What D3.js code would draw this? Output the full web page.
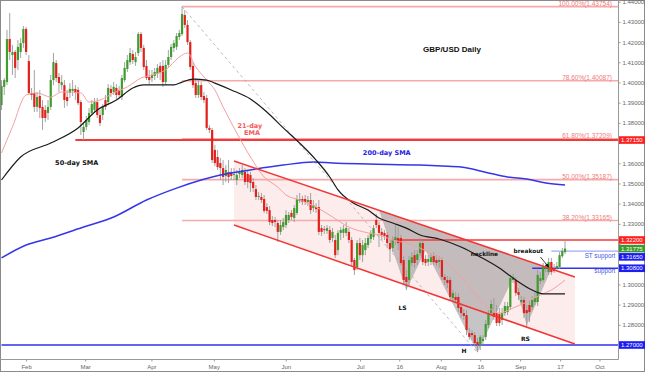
<!DOCTYPE html>
<html>
<head>
<meta charset="utf-8">
<script src="https://cdn.jsdelivr.net/npm/d3@7"></script>
<style>
body { margin: 0; background: #fff; }
svg { display: block; font-family: "Liberation Sans", Arial, sans-serif; }
</style>
</head>
<body>
<svg id="chart" width="645" height="372"></svg>
<script>
// daily bars, [open, high, low, close]
var bars = [
  [1.3888,1.4012,1.3864,1.3983],[1.3978,1.4022,1.3938,1.4012],[1.4002,1.4260,1.3987,1.4215],[1.4215,1.4344,1.4111,1.4151],
  [1.4136,1.4186,1.4037,1.4151],[1.4151,1.4161,1.4022,1.4072],[1.4111,1.4210,1.4062,1.4176],[1.4151,1.4220,1.4121,1.4195],
  [1.4195,1.4280,1.4171,1.4265],[1.4265,1.4275,1.4136,1.4151],[1.4106,1.4136,1.3938,1.3948],[1.3948,1.3973,1.3913,1.3938],
  [1.3948,1.4062,1.3854,1.3879],[1.3879,1.3953,1.3854,1.3928],[1.3933,1.3963,1.3824,1.3874],[1.3879,1.3913,1.3765,1.3824],
  [1.3864,1.3888,1.3804,1.3824],[1.3849,1.3913,1.3814,1.3879],[1.3879,1.4037,1.3864,1.4012],[1.4012,1.4146,1.3987,1.4101],
  [1.4096,1.4111,1.4002,1.4022],[1.4027,1.4047,1.3953,1.3997],[1.3987,1.4037,1.3963,1.4002],[1.3987,1.4012,1.3874,1.3913],
  [1.3928,1.3963,1.3883,1.3908],[1.3948,1.3997,1.3923,1.3968],[1.3958,1.4012,1.3933,1.3968],[1.3968,1.3987,1.3913,1.3948],
  [1.3963,1.3978,1.3888,1.3898],[1.3903,1.3913,1.3740,1.3804],[1.3755,1.3804,1.3715,1.3780],[1.3780,1.3834,1.3765,1.3814],
  [1.3804,1.3874,1.3789,1.3849],[1.3849,1.3913,1.3834,1.3893],[1.3864,1.3923,1.3854,1.3903],[1.3903,1.3923,1.3824,1.3839],
  [1.3839,1.3864,1.3784,1.3799],[1.3839,1.3893,1.3814,1.3879],[1.3913,1.3938,1.3864,1.3879],[1.3903,1.3992,1.3888,1.3973],
  [1.3968,1.3987,1.3928,1.3948],[1.3953,1.4002,1.3938,1.3978],[1.3973,1.3992,1.3918,1.3938],[1.3963,1.3983,1.3923,1.3938],
  [1.3928,1.4037,1.3913,1.4022],[1.4012,1.4101,1.4002,1.4072],[1.4067,1.4136,1.4052,1.4111],[1.4101,1.4171,1.4087,1.4146],
  [1.4141,1.4161,1.4091,1.4111],[1.4101,1.4151,1.4082,1.4126],[1.4146,1.4250,1.4131,1.4240],[1.4240,1.4250,1.4151,1.4171],
  [1.4171,1.4186,1.4062,1.4077],[1.4082,1.4111,1.4012,1.4022],[1.4027,1.4062,1.3992,1.4012],[1.4022,1.4062,1.4002,1.4037],
  [1.4032,1.4072,1.4012,1.4052],[1.4042,1.4091,1.4022,1.4072],[1.4082,1.4101,1.4012,1.4047],[1.4082,1.4111,1.3978,1.4002],
  [1.4002,1.4111,1.3987,1.4087],[1.4087,1.4161,1.4072,1.4126],[1.4126,1.4191,1.4111,1.4176],[1.4171,1.4210,1.4151,1.4195],
  [1.4176,1.4245,1.4161,1.4230],[1.4225,1.4260,1.4210,1.4245],[1.4240,1.4375,1.4230,1.4339],[1.4334,1.4359,1.4270,1.4285],
  [1.4285,1.4309,1.4186,1.4200],[1.4200,1.4210,1.4062,1.4077],[1.4082,1.4101,1.3973,1.3987],[1.3997,1.4022,1.3923,1.3938],
  [1.3938,1.4012,1.3923,1.3987],[1.3987,1.4002,1.3913,1.3928],[1.3933,1.3953,1.3898,1.3913],[1.3923,1.3938,1.3765,1.3775],
  [1.3775,1.3789,1.3750,1.3765],[1.3765,1.3775,1.3601,1.3616],[1.3666,1.3690,1.3586,1.3601],[1.3631,1.3666,1.3567,1.3581],
  [1.3601,1.3626,1.3517,1.3576],[1.3576,1.3616,1.3492,1.3532],[1.3537,1.3591,1.3507,1.3567],[1.3557,1.3616,1.3502,1.3532],
  [1.3557,1.3576,1.3517,1.3537],[1.3542,1.3576,1.3517,1.3547],[1.3517,1.3567,1.3492,1.3542],[1.3547,1.3576,1.3527,1.3557],
  [1.3542,1.3591,1.3527,1.3567],[1.3557,1.3576,1.3492,1.3507],[1.3547,1.3567,1.3477,1.3507],[1.3542,1.3557,1.3458,1.3502],
  [1.3507,1.3527,1.3458,1.3477],[1.3472,1.3492,1.3418,1.3433],[1.3433,1.3458,1.3418,1.3438],[1.3433,1.3453,1.3403,1.3418],
  [1.3423,1.3443,1.3354,1.3364],[1.3383,1.3403,1.3349,1.3364],[1.3368,1.3388,1.3294,1.3309],[1.3319,1.3339,1.3289,1.3304],
  [1.3319,1.3334,1.3284,1.3309],[1.3304,1.3319,1.3210,1.3260],[1.3260,1.3319,1.3245,1.3294],[1.3284,1.3329,1.3269,1.3309],
  [1.3294,1.3368,1.3279,1.3344],[1.3319,1.3359,1.3304,1.3344],[1.3354,1.3368,1.3319,1.3334],[1.3329,1.3393,1.3309,1.3378],
  [1.3354,1.3443,1.3344,1.3423],[1.3413,1.3453,1.3403,1.3423],[1.3423,1.3438,1.3393,1.3408],[1.3423,1.3443,1.3393,1.3408],
  [1.3408,1.3438,1.3388,1.3418],[1.3418,1.3453,1.3349,1.3368],[1.3378,1.3418,1.3359,1.3393],[1.3383,1.3403,1.3354,1.3373],
  [1.3383,1.3418,1.3245,1.3260],[1.3279,1.3294,1.3240,1.3260],[1.3274,1.3289,1.3250,1.3269],[1.3265,1.3294,1.3250,1.3279],
  [1.3269,1.3289,1.3205,1.3220],[1.3230,1.3279,1.3210,1.3260],[1.3220,1.3245,1.3131,1.3145],[1.3170,1.3269,1.3145,1.3255],
  [1.3255,1.3284,1.3220,1.3269],[1.3255,1.3294,1.3230,1.3274],[1.3255,1.3309,1.3240,1.3279],[1.3260,1.3279,1.3205,1.3220],
  [1.3220,1.3235,1.3096,1.3111],[1.3121,1.3131,1.3047,1.3071],[1.3086,1.3220,1.3071,1.3205],[1.3205,1.3230,1.3121,1.3145],
  [1.3145,1.3220,1.3111,1.3195],[1.3170,1.3230,1.3145,1.3205],[1.3195,1.3245,1.3180,1.3230],[1.3225,1.3269,1.3205,1.3255],
  [1.3235,1.3294,1.3220,1.3279],[1.3319,1.3349,1.3279,1.3294],[1.3294,1.3309,1.3185,1.3255],[1.3260,1.3279,1.3220,1.3245],
  [1.3255,1.3269,1.3220,1.3240],[1.3245,1.3260,1.3180,1.3205],[1.3205,1.3220,1.3111,1.3175],[1.3180,1.3240,1.3160,1.3220],
  [1.3220,1.3294,1.3195,1.3235],[1.3230,1.3284,1.3170,1.3205],[1.3230,1.3245,1.3096,1.3106],[1.3121,1.3140,1.2997,1.3022],
  [1.3037,1.3071,1.2972,1.3012],[1.3022,1.3140,1.2997,1.3121],[1.3106,1.3160,1.3091,1.3135],[1.3145,1.3170,1.3081,1.3106],
  [1.3121,1.3170,1.3096,1.3150],[1.3155,1.3230,1.3140,1.3205],[1.3205,1.3220,1.3096,1.3111],[1.3126,1.3145,1.3091,1.3106],
  [1.3111,1.3145,1.3091,1.3126],[1.3111,1.3155,1.3096,1.3135],[1.3140,1.3160,1.3096,1.3111],[1.3121,1.3145,1.3091,1.3106],
  [1.3111,1.3140,1.3081,1.3121],[1.3121,1.3135,1.3022,1.3037],[1.3037,1.3052,1.2997,1.3022],[1.3022,1.3042,1.2982,1.3007],
  [1.3022,1.3037,1.2923,1.2938],[1.2933,1.2972,1.2913,1.2957],[1.2938,1.2962,1.2908,1.2923],[1.2938,1.2957,1.2863,1.2883],
  [1.2888,1.2908,1.2834,1.2858],[1.2858,1.2878,1.2824,1.2844],[1.2848,1.2873,1.2749,1.2774],[1.2759,1.2784,1.2725,1.2740],
  [1.2759,1.2774,1.2725,1.2749],[1.2749,1.2764,1.2695,1.2710],[1.2715,1.2735,1.2665,1.2700],[1.2700,1.2749,1.2675,1.2740],
  [1.2720,1.2749,1.2700,1.2730],[1.2740,1.2824,1.2725,1.2804],[1.2799,1.2873,1.2784,1.2858],[1.2858,1.2923,1.2844,1.2903],
  [1.2858,1.2933,1.2824,1.2839],[1.2858,1.2898,1.2794,1.2809],[1.2853,1.2883,1.2794,1.2809],[1.2824,1.2883,1.2799,1.2858],
  [1.2858,1.2913,1.2844,1.2893],[1.2863,1.2913,1.2848,1.2893],[1.2888,1.3047,1.2873,1.3032],[1.3022,1.3052,1.3007,1.3037],
  [1.3022,1.3037,1.2943,1.2957],[1.2962,1.2982,1.2923,1.2948],[1.2913,1.2943,1.2898,1.2923],[1.2923,1.2938,1.2834,1.2858],
  [1.2873,1.2898,1.2789,1.2858],[1.2898,1.2923,1.2814,1.2863],[1.2888,1.2943,1.2873,1.2923],[1.2913,1.2962,1.2898,1.2933],
  [1.2913,1.3071,1.2893,1.3047],[1.3017,1.3061,1.3002,1.3032],[1.3022,1.3106,1.3012,1.3086],[1.3076,1.3106,1.3061,1.3086],
  [1.3061,1.3131,1.3047,1.3111],[1.3111,1.3131,1.3047,1.3061],[1.3081,1.3101,1.3057,1.3066],[1.3081,1.3111,1.3071,1.3091],
  [1.3086,1.3160,1.3076,1.3145],[1.3140,1.3180,1.3131,1.3165],[1.3160,1.3220,1.3150,1.31775]
];

// moving averages, [bar index, price]
var ema21 = [[0,1.3651],[4,1.3780],[9,1.3938],[13,1.3948],[18,1.3928],[22,1.3953],[29,1.3948],[32,1.3903],
  [36,1.3913],[41,1.3948],[46,1.3978],[51,1.4022],[55,1.4037],[60,1.4062],[65,1.4126],[68,1.4146],[71,1.4077],
  [75,1.4012],[78,1.3963],[81,1.3879],[86,1.3750],[91,1.3631],[96,1.3532],[101,1.3482],[104,1.3443],[109,1.3418],
  [115,1.3383],[121,1.3334],[127,1.3284],[134,1.3255],[138,1.3245],[143,1.3220],[148,1.3205],[153,1.3180],
  [158,1.3146],[163,1.3106],[168,1.3037],[172,1.2972],[177,1.2898],[182,1.2858],[187,1.2883],[192,1.2913],
  [197,1.2948],[201,1.2972],[206,1.3022]];
var sma50 = [[0,1.3517],[7,1.3631],[18,1.3700],[28,1.3775],[35,1.3864],[42,1.3913],[48,1.3973],[52,1.3988],
  [58,1.3988],[63,1.3988],[66,1.4002],[70,1.4017],[75,1.4012],[78,1.3997],[84,1.3963],[91,1.3918],[97,1.3854],
  [103,1.3775],[109,1.3700],[115,1.3616],[120,1.3532],[123,1.3468],[128,1.3408],[134,1.3368],[138,1.3329],
  [143,1.3304],[148,1.3279],[153,1.3245],[160,1.3225],[168,1.3185],[175,1.3136],[182,1.3081],[188,1.3022],
  [194,1.2972],[198,1.2953],[202,1.2953],[206,1.2953]];
var sma200 = [[0,1.3131],[9,1.3195],[18,1.3230],[30,1.3284],[41,1.3334],[53,1.3418],[64,1.3477],[73,1.3517],
  [80,1.3542],[91,1.3567],[103,1.3591],[114,1.3606],[121,1.3601],[134,1.3596],[153,1.3591],[161,1.3586],
  [168,1.3581],[178,1.3552],[185,1.3532],[192,1.3522],[199,1.3502],[206,1.3492]];

// retracement of the April high to the August low
var fibPct = ["100.00%", "78.60%", "61.80%", "50.00%", "38.20%"];
var fibValue = [1.43754, 1.40087, 1.37209, 1.35187, 1.33165];
var fibFrom = [66, 1.43754], fibTo = [174, 1.2662];

// down channel and head-and-shoulders
var channelTop = [[85, 1.3611], [209.6, 1.3037]];
var channelBottom = [[85, 1.3294], [209.6, 1.2705]];
var hsShape = [[138, 1.3367], [148, 1.2972], [155, 1.3170], [174, 1.2662], [187, 1.3032], [192, 1.2798], [201, 1.3077]];
var breakoutArrow = [[197, 1.3136], [200, 1.3086]];

// levels: [price, first bar, colour, width]
var levels = [
  [1.3715, 27, "#f23a3a", 2],
  [1.3220, 143, "#f23a3a", 1.5],
  [1.3165, 201, "#8a95f2", 1],
  [1.3080, 194, "#3434e6", 1.5],
  [1.2700, 0, "#2f2ff0", 1.5]
];
var boxValue = [1.3715, 1.3220, 1.31775, 1.3165, 1.3080, 1.2700];
var boxColor = ["#ff1f1f", "#ff1f1f", "#3c9a2c", "#1c1cf5", "#1c1cf5", "#1c1cf5"];

var priceTicks = [1.27, 1.28, 1.29, 1.30, 1.31, 1.32, 1.33, 1.34, 1.35, 1.36, 1.37, 1.38, 1.39, 1.40, 1.41, 1.42, 1.43, 1.44];
var monthIndex = [9, 30.6, 54.8, 77.6, 103.9, 131.1, 145.4, 160.6, 175, 189.6, 204.2, 218.6];
var monthLabel = ["Feb", "Mar", "Apr", "May", "Jun", "Jul", "16", "Aug", "16", "Sep", "17", "Oct"];

// text notes: [text, bar index, price, anchor, colour, size, font]
var notes = [
  ["GBP/USD Daily", 154.1, 1.4151, "start", "#111", 8, "title"],
  ["50-day SMA", 19.6, 1.3589, "start", "#111", 6.5, "note"],
  ["21-day", 90.8, 1.3775, "middle", "#f55a5a", 6.5, "note"],
  ["EMA", 91.6, 1.3740, "middle", "#f55a5a", 6.5, "note"],
  ["200-day SMA", 132.1, 1.3641, "start", "#2424e0", 6.5, "note"],
  ["neckline", 171.5, 1.3143, "start", "#111", 5.8, "note"],
  ["breakout", 187.2, 1.3158, "start", "#111", 5.8, "note"],
  ["LS", 146.6, 1.2871, "middle", "#111", 6, "note"],
  ["H", 169.1, 1.2658, "middle", "#111", 6, "note"],
  ["RS", 191.5, 1.2722, "middle", "#111", 6, "note"],
  ["ST support", 224.4, 1.3131, "end", "#4a58e0", 6.3, "plain"],
  ["support", 224.4, 1.3055, "end", "#4a58e0", 6.3, "plain"]
];

var W = 645, H = 372;
var plotRight = 618, plotBottom = 359;

var x = d3.scaleLinear().domain([0, 225]).range([1.5, 617]);
var y = d3.scaleLinear().domain([1.27, 1.44]).range([345, 1.7]);

var svg = d3.select("#chart");
svg.append("defs").append("clipPath").attr("id", "clip")
  .append("rect").attr("x", 1).attr("y", 1).attr("width", plotRight - 1).attr("height", plotBottom - 1);
svg.select("defs").append("marker").attr("id", "arrow").attr("viewBox", "0 0 6 6")
  .attr("refX", 5).attr("refY", 3).attr("markerWidth", 5).attr("markerHeight", 5).attr("orient", "auto")
  .append("path").attr("d", "M0,0L6,3L0,6Z").attr("fill", "#111");

var g = svg.append("g").attr("clip-path", "url(#clip)");
var lineGen = d3.line().x(function (d) { return x(d[0]); }).y(function (d) { return y(d[1]); });

//channel and pattern fills
g.append("path")
  .attr("d", lineGen([channelTop[0], channelTop[1], channelBottom[1], channelBottom[0]]) + "Z")
  .attr("fill", "#f9d9d9").attr("fill-opacity", 0.5);
g.append("path").attr("d", lineGen(hsShape) + "Z")
  .attr("fill", "#8c8c8c").attr("fill-opacity", 0.5);

//fib lines
fibValue.forEach(function (v) {
  g.append("line").attr("x1", x(fibFrom[0])).attr("x2", plotRight).attr("y1", y(v)).attr("y2", y(v))
    .attr("stroke", "#f6aaaa").attr("stroke-width", 1.6);
});
fibValue.forEach(function (v, i) {
  g.append("text").attr("x", 612).attr("y", y(v) - 1).attr("text-anchor", "end")
    .attr("font-size", 6.5).attr("fill", "#f07a7a")
    .text(fibPct[i] + "(" + d3.format(".5f")(v) + ")");
});

//levels
levels.forEach(function (l) {
  g.append("line").attr("x1", x(l[1])).attr("x2", plotRight).attr("y1", y(l[0])).attr("y2", y(l[0]))
    .attr("stroke", l[2]).attr("stroke-width", l[3]);
});

//fib diagonal
g.append("line").attr("x1", x(fibFrom[0])).attr("y1", y(fibFrom[1])).attr("x2", x(fibTo[0])).attr("y2", y(fibTo[1]))
  .attr("stroke", "#aaa").attr("stroke-width", 0.8).attr("stroke-dasharray", "3,3");

//candles
var candle = g.append("g").selectAll("g").data(bars).enter().append("g");
candle.append("line")
  .attr("x1", function (d, i) { return x(i); }).attr("x2", function (d, i) { return x(i); })
  .attr("y1", function (d) { return y(d[1]); }).attr("y2", function (d) { return y(d[2]); })
  .attr("stroke", "#999").attr("stroke-width", 0.9);
candle.append("rect")
  .attr("x", function (d, i) { return x(i) - 1.1; })
  .attr("width", 2.2)
  .attr("y", function (d) { return y(Math.max(d[0], d[3])); })
  .attr("height", function (d) { return Math.max(1, Math.abs(y(d[0]) - y(d[3]))); })
  .attr("fill", function (d) { return d[3] >= d[0] ? "#3f9c2f" : "#e3211c"; });

//moving averages
var curve = d3.line().curve(d3.curveMonotoneX).x(function (d) { return x(d[0]); }).y(function (d) { return y(d[1]); });
g.append("path").attr("d", curve(sma200)).attr("fill", "none").attr("stroke", "#3535ea").attr("stroke-width", 1.5);
g.append("path").attr("d", curve(ema21)).attr("fill", "none").attr("stroke", "#f4a0a0").attr("stroke-width", 1);
g.append("path").attr("d", curve(sma50)).attr("fill", "none").attr("stroke", "#1a1a1a").attr("stroke-width", 1.2);

//channel lines
[channelTop, channelBottom].forEach(function (c) {
  g.append("path").attr("d", lineGen(c)).attr("stroke", "#f43535").attr("stroke-width", 1.5).attr("fill", "none");
});

g.append("line").attr("x1", x(breakoutArrow[0][0])).attr("y1", y(breakoutArrow[0][1]))
  .attr("x2", x(breakoutArrow[1][0])).attr("y2", y(breakoutArrow[1][1]))
  .attr("stroke", "#111").attr("stroke-width", 0.8).attr("marker-end", "url(#arrow)");

//notes
notes.forEach(function (n) {
  var t = g.append("text").attr("x", x(n[1])).attr("y", y(n[2])).attr("text-anchor", n[3])
    .attr("fill", n[4]).attr("font-size", n[5]).text(n[0]);
  if (n[6] == "title") t.attr("font-weight", "bold");
  if (n[6] == "note") t.attr("font-family", "'DejaVu Sans', Verdana, sans-serif").attr("font-weight", "bold");
});

//frame
svg.append("rect").attr("x", 0.5).attr("y", 0.5).attr("width", W - 1).attr("height", H - 1)
  .attr("fill", "none").attr("stroke", "#8a8a8a");
svg.append("line").attr("x1", 0).attr("x2", plotRight + 0.5).attr("y1", plotBottom + 0.5).attr("y2", plotBottom + 0.5).attr("stroke", "#999");
svg.append("line").attr("x1", plotRight + 0.5).attr("x2", plotRight + 0.5).attr("y1", 0).attr("y2", plotBottom + 0.5).attr("stroke", "#999");

//axes
var yAxis = svg.append("g").attr("transform", "translate(" + (plotRight + 0.5) + ",0)")
  .call(d3.axisRight(y).tickValues(priceTicks).tickFormat(d3.format(".5f")).tickSize(2).tickPadding(2));
var xAxis = svg.append("g").attr("transform", "translate(0," + (plotBottom + 0.5) + ")")
  .call(d3.axisBottom(x).tickValues(monthIndex).tickFormat(function (d, i) { return monthLabel[i]; }).tickSize(2).tickPadding(3));
[yAxis, xAxis].forEach(function (a) {
  a.select(".domain").remove();
  a.selectAll("line").attr("stroke", "#999");
  a.selectAll("text").attr("fill", "#666").attr("font-size", 6).attr("font-family", "'Liberation Sans', Arial, sans-serif");
});

//price boxes, pushed apart so they don't overlap
var boxY = [];
var order = d3.range(boxValue.length).sort(function (a, b) { return y(boxValue[a]) - y(boxValue[b]); });
var last = -100;
order.forEach(function (k) {
  var cy = Math.max(y(boxValue[k]), last + 8.3);
  boxY[k] = cy;
  last = cy;
});
yAxis.selectAll(".tick").filter(function (d) {
  return boxY.some(function (b) { return Math.abs(y(d) - b) < 6; });
}).select("text").remove();
boxValue.forEach(function (v, k) {
  svg.append("rect").attr("x", plotRight + 1).attr("y", boxY[k] - 3.8).attr("width", W - plotRight - 1).attr("height", 7.6)
    .attr("fill", boxColor[k]);
  svg.append("text").attr("x", plotRight + 3).attr("y", boxY[k] + 2.2).attr("fill", "#fff")
    .attr("font-size", 6).text(d3.format(".5f")(v));
});
</script>
</body>
</html>
